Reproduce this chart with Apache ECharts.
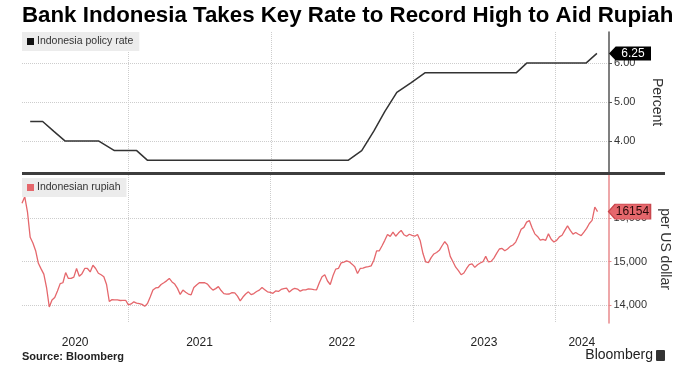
<!DOCTYPE html>
<html><head><meta charset="utf-8">
<script src="https://cdn.jsdelivr.net/npm/echarts@6/dist/echarts.min.js"></script>
<style>html,body{margin:0;padding:0;background:#fff}#c{width:680px;height:376px}</style>
</head><body><div id="c"></div>
<script>
// ---------- data ----------
const titleText = 'Bank Indonesia Takes Key Rate to Record High to Aid Rupiah';
const policyName = 'Indonesia policy rate';
const rupiahName = 'Indonesian rupiah';
const sourceText = 'Source: Bloomberg';

const policyDates = [
  '2020-04-24','2020-05-26','2020-06-23','2020-07-22','2020-08-21','2020-09-21','2020-10-16',
  '2020-11-26','2020-12-21','2021-01-22','2021-02-19','2021-03-19','2021-04-20','2021-05-25',
  '2021-06-17','2021-07-22','2021-08-19','2021-09-21','2021-10-19','2021-11-18','2021-12-16',
  '2022-01-20','2022-02-10','2022-03-17','2022-04-19','2022-05-24','2022-06-23','2022-07-18',
  '2022-08-22','2022-09-22','2022-10-20','2022-11-20','2022-12-27','2023-01-31','2023-02-16',
  '2023-03-16','2023-04-18','2023-05-25','2023-06-22','2023-07-25','2023-08-24','2023-09-22',
  '2023-10-19','2023-11-23','2023-12-21','2024-01-17','2024-02-21','2024-03-19','2024-04-16'
];
const policyValues = [
  4.50,4.50,4.25,4.00,4.00,4.00,4.00,
  3.75,3.75,3.75,3.50,3.50,3.50,3.50,
  3.50,3.50,3.50,3.50,3.50,3.50,3.50,
  3.50,3.50,3.50,3.50,3.50,3.50,3.50,
  3.75,4.25,4.75,5.25,5.50,5.75,5.75,
  5.75,5.75,5.75,5.75,5.75,5.75,5.75,
  6.00,6.00,6.00,6.00,6.00,6.00,6.25
];

// weekly samples starting on this date
const rupiahStart = '2020-04-03';
const rupiahStepDays = 7;
const rupiahValues = [
  16350,16500,16150,15560,15430,15250,14960,14830,14710,14400,
  13950,14110,14170,14320,14490,14510,14745,14610,14610,14640,
  14840,14660,14720,14840,14840,14760,14915,14840,14730,14695,
  14650,14470,14077,14120,14115,14115,14100,14105,14105,14000,
  14020,14070,14040,14030,14010,13965,14030,14180,14340,14390,
  14400,14470,14510,14554,14610,14530,14480,14380,14240,14340,
  14290,14250,14231,14400,14460,14510,14515,14510,14480,14400,
  14340,14375,14420,14330,14260,14246,14250,14280,14275,14200,
  14090,14180,14250,14300,14235,14260,14308,14340,14400,14350,
  14300,14290,14265,14320,14310,14355,14372,14385,14295,14350,
  14383,14365,14315,14346,14346,14369,14362,14350,14346,14510,
  14650,14695,14550,14470,14670,14825,14840,14970,14985,15015,
  14995,14940,14880,14725,14840,14848,14872,14883,14900,15030,
  15246,15250,15365,15490,15625,15581,15680,15585,15658,15720,
  15620,15585,15631,15607,15585,15625,15480,15185,14990,14975,
  15090,15175,15210,15260,15365,15458,15380,15120,14995,14870,
  14790,14695,14735,14840,14928,14945,14865,14925,14966,14997,
  15120,14990,15005,15080,15190,15290,15304,15250,15290,15350,
  15382,15450,15590,15745,15790,15910,15947,15780,15640,15580,
  15495,15510,15490,15640,15515,15450,15490,15570,15608,15720,
  15825,15720,15635,15670,15630,15600,15680,15767,15880,15950,
  16260,16154
];

const rateTicks = [4, 5, 6];
const fxTicks = [14000, 15000, 16000];
const yearBoundaries = [2021, 2022, 2023, 2024];
const xMinDate = '2020-04-03';
const xMaxDate = '2024-05-17';

// ---------- build ----------
const DAY = 86400000;
const ts = s => Date.parse(s + 'T00:00:00Z');
const xMin = ts(xMinDate), xMax = ts(xMaxDate);
const yearStarts = yearBoundaries.map(y => Date.UTC(y, 0, 1));
const yearLabelPos = [];
for (let y = new Date(xMin).getUTCFullYear(); y <= new Date(xMax).getUTCFullYear(); y++) {
  const a = Math.max(xMin, Date.UTC(y, 0, 1)), b = Math.min(xMax, Date.UTC(y + 1, 0, 1));
  yearLabelPos.push((a + b) / 2);
}
const policyData = policyDates.map((d, i) => [ts(d), policyValues[i]]);
const rupiahData = rupiahValues.map((v, i) => [ts(rupiahStart) + i * rupiahStepDays * DAY, v]);
const rateLast = policyValues[policyValues.length - 1];
const fxLast = rupiahValues[rupiahValues.length - 1];

const FONT = '"Liberation Sans", Arial, sans-serif';
const RED = '#e5676c';
const grid = '#cdcdcd';
const tagPath = 'path://M0,7L7,0L44,0L44,14L7,14Z';

const xCommon = {
  type: 'value', min: xMin, max: xMax,
  axisLine: { show: false },
  axisTick: { show: false, customValues: yearStarts },
  splitLine: { show: true, lineStyle: { color: grid, type: 'dotted', width: 1 } }
};

const chart = echarts.init(document.getElementById('c'), null, { renderer: 'canvas' });
chart.setOption({
  animation: false,
  textStyle: { fontFamily: FONT },
  title: {
    text: titleText, left: 22, top: 5, padding: 0,
    textStyle: { fontSize: 22.3, fontWeight: 'bold', color: '#000', fontFamily: FONT }
  },
  legend: [
    { data: [policyName], left: 22, top: 32, icon: 'rect', itemWidth: 7, itemHeight: 7, itemGap: 4,
      padding: [4, 6, 4, 5], backgroundColor: '#ececec', selectedMode: false,
      textStyle: { fontSize: 10.5, color: '#333', fontFamily: FONT, padding: [0, 0, 0, -2] } },
    { data: [rupiahName], left: 22, top: 178, icon: 'rect', itemWidth: 7, itemHeight: 7, itemGap: 4,
      padding: [4, 6, 4, 5], backgroundColor: '#ececec', selectedMode: false,
      textStyle: { fontSize: 10.5, color: '#333', fontFamily: FONT, padding: [0, 0, 0, -2] } }
  ],
  grid: [
    { left: 22, right: 71, top: 32, height: 140 },
    { left: 22, right: 71, top: 175, height: 148 }
  ],
  xAxis: [
    Object.assign({ gridIndex: 0, axisLabel: { show: false } }, xCommon),
    Object.assign({ gridIndex: 1, axisLabel: {
      show: true, customValues: yearLabelPos, margin: 14, fontSize: 12, color: '#222',
      formatter: v => String(new Date(v).getUTCFullYear())
    } }, xCommon)
  ],
  yAxis: [
    { type: 'value', gridIndex: 0, position: 'right', min: 3.2, max: 6.8,
      axisLine: { show: true, onZero: false, lineStyle: { color: '#555', width: 1.5 } },
      axisTick: { show: true, customValues: rateTicks, length: 3, lineStyle: { color: '#555' } },
      axisLabel: { customValues: rateTicks, formatter: v => v.toFixed(2), margin: 5, fontSize: 11, color: '#333' },
      splitLine: { show: true, lineStyle: { color: grid, type: 'dotted' } },
      name: 'Percent', nameLocation: 'middle', nameRotate: -90, nameGap: 41,
      nameTextStyle: { fontSize: 14, color: '#333', fontFamily: FONT } },
    { type: 'value', gridIndex: 1, position: 'right', min: 13580, max: 17000,
      axisLine: { show: true, onZero: false, lineStyle: { color: '#e98a8d', width: 1.5 } },
      axisTick: { show: true, customValues: fxTicks, length: 3, lineStyle: { color: '#e98a8d' } },
      axisLabel: { customValues: fxTicks, margin: 5, fontSize: 11, color: '#333' },
      splitLine: { show: true, lineStyle: { color: grid, type: 'dotted' } },
      name: 'per US dollar', nameLocation: 'middle', nameRotate: -90, nameGap: 41,
      nameTextStyle: { fontSize: 14, color: '#333', fontFamily: FONT } }
  ],
  series: [
    { type: 'line', name: policyName, xAxisIndex: 0, yAxisIndex: 0, data: policyData,
      symbol: 'none', lineStyle: { color: '#333', width: 1.5 }, itemStyle: { color: '#111' },
      markPoint: { silent: true, animation: false,
        symbol: tagPath, symbolSize: [42, 14], symbolOffset: [21, 0], symbolKeepAspect: false,
        itemStyle: { color: '#000' },
        label: { show: true, color: '#fff', fontSize: 12, offset: [3, 0], formatter: rateLast.toFixed(2) },
        data: [{ coord: [xMax, rateLast], value: rateLast }] } },
    { type: 'line', name: rupiahName, xAxisIndex: 1, yAxisIndex: 1, data: rupiahData,
      symbol: 'none', lineStyle: { color: RED, width: 1.3 }, itemStyle: { color: RED },
      markPoint: { silent: true, animation: false,
        symbol: tagPath, symbolSize: [42, 15], symbolOffset: [21, 0], symbolKeepAspect: false,
        itemStyle: { color: RED, borderColor: '#c9474d', borderWidth: 1 },
        label: { show: true, color: '#2a0a0a', fontSize: 12, offset: [3, 0], formatter: String(fxLast) },
        data: [{ coord: [xMax, fxLast], value: fxLast }] } }
  ],
  graphic: [
    { type: 'line', silent: true, z: 50, shape: { x1: 22, y1: 173.5, x2: 665, y2: 173.5 },
      style: { stroke: '#3d3d3d', lineWidth: 3 } },
    { type: 'text', left: 22, top: 351, silent: true,
      style: { text: sourceText, font: 'bold 11px ' + FONT, fill: '#222' } },
    { type: 'text', right: 27, top: 348, silent: true,
      style: { text: 'Bloomberg', font: '14px ' + FONT, fill: '#222' } },
    { type: 'rect', right: 15, top: 350, silent: true, shape: { width: 9, height: 11, r: 1 },
      style: { fill: '#333' } }
  ]
});
</script></body></html>
